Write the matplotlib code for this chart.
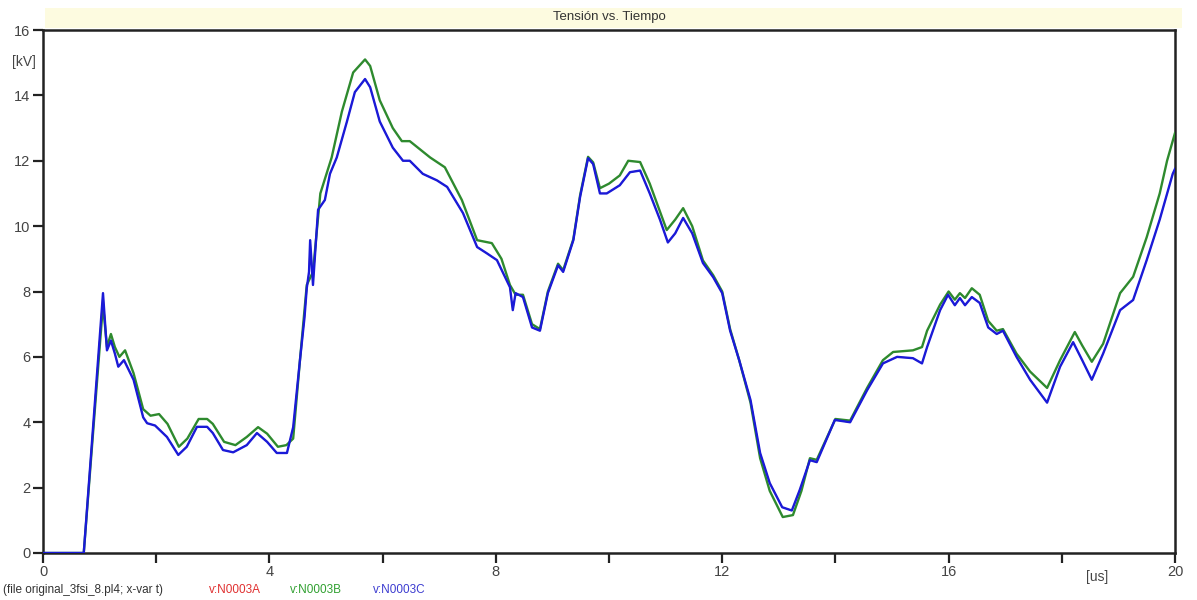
import matplotlib
matplotlib.use("Agg")
import matplotlib.pyplot as plt
from matplotlib.patches import Rectangle

# ---- data ----
t_C = [0, 0.72, 1.06, 1.13, 1.2, 1.27, 1.33, 1.43, 1.6, 1.77, 1.84, 1.98, 2.19, 2.39, 2.54, 2.72,
       2.9, 3.0, 3.18, 3.36, 3.6, 3.78, 3.96, 4.13, 4.31, 4.42, 4.54, 4.62, 4.66, 4.7, 4.72, 4.77,
       4.86, 4.98, 5.07, 5.19, 5.37, 5.51, 5.69, 5.78, 5.95, 6.18, 6.36, 6.48, 6.71, 6.96, 7.14,
       7.42, 7.67, 7.84, 8.02, 8.25, 8.3, 8.35, 8.48, 8.64, 8.78, 8.92, 9.1, 9.19, 9.37, 9.49,
       9.63, 9.72, 9.84, 9.96, 10.19, 10.37, 10.55, 10.72, 10.9, 11.04, 11.17, 11.31, 11.47,
       11.66, 11.84, 12.0, 12.14, 12.3, 12.5, 12.67, 12.84, 13.06, 13.23, 13.37, 13.55, 13.67,
       13.99, 14.26, 14.56, 14.84, 15.09, 15.37, 15.53, 15.62, 15.85, 15.99, 16.11, 16.2, 16.29,
       16.41, 16.55, 16.7, 16.85, 16.96, 17.2, 17.44, 17.74, 17.97, 18.2, 18.36, 18.53, 18.73,
       19.03, 19.26, 19.5, 19.73, 19.96, 20.0]
v_C = [0, 0, 7.95, 6.2, 6.5, 6.1, 5.7, 5.9, 5.3, 4.15, 3.97, 3.9, 3.55, 3.0, 3.25, 3.86,
       3.86, 3.67, 3.15, 3.08, 3.3, 3.67, 3.4, 3.06, 3.06, 3.85, 5.9, 7.2, 8.1, 8.6, 9.57, 8.2,
       10.5, 10.8, 11.6, 12.1, 13.2, 14.1, 14.5, 14.25, 13.2, 12.4, 12.0, 12.0, 11.6, 11.4, 11.2,
       10.4, 9.36, 9.17, 8.96, 8.13, 7.43, 7.95, 7.83, 6.9, 6.8, 7.95, 8.8, 8.6, 9.57, 10.9,
       12.08, 11.9, 11.0, 11.0, 11.25, 11.65, 11.7, 11.0, 10.2, 9.5, 9.78, 10.25, 9.78,
       8.87, 8.44, 7.95, 6.8, 5.9, 4.68, 3.06, 2.14, 1.4, 1.3, 1.93, 2.84, 2.78,
       4.07, 4.0, 4.98, 5.8, 6.0, 5.96, 5.8, 6.3, 7.43, 7.9, 7.58, 7.8, 7.58,
       7.83, 7.65, 6.9, 6.7, 6.8, 6.0, 5.3, 4.6, 5.7, 6.45, 5.9, 5.3, 6.1,
       7.43, 7.74, 8.96, 10.2, 11.6, 11.75]

t_B = [0, 0.72, 1.06, 1.13, 1.2, 1.27, 1.35, 1.45, 1.6, 1.77, 1.9, 2.05, 2.2, 2.4, 2.55, 2.75,
       2.9, 3.0, 3.2, 3.4, 3.6, 3.8, 3.96, 4.15, 4.3, 4.42, 4.54, 4.66, 4.77, 4.9, 5.1, 5.28,
       5.48, 5.69, 5.78, 5.95, 6.18, 6.34, 6.48, 6.84, 7.1, 7.4, 7.67, 7.93, 8.1, 8.25, 8.35,
       8.48, 8.64, 8.78, 8.92, 9.1, 9.19, 9.37, 9.49, 9.63, 9.72, 9.84, 10.0, 10.19, 10.34,
       10.55, 10.72, 11.02, 11.17, 11.31, 11.47, 11.66, 11.84, 12.0, 12.14, 12.3, 12.5, 12.67,
       12.84, 13.07, 13.25, 13.4, 13.55, 13.67, 14.0, 14.26, 14.56, 14.84, 15.02, 15.37, 15.53,
       15.62, 15.85, 16.0, 16.11, 16.2, 16.29, 16.41, 16.55, 16.7, 16.85, 16.96, 17.2, 17.44,
       17.74, 17.97, 18.23, 18.36, 18.53, 18.73, 19.03, 19.26, 19.5, 19.73, 19.86, 20.0]
v_B = [0, 0, 7.6, 6.3, 6.7, 6.3, 6.0, 6.2, 5.5, 4.4, 4.2, 4.25, 3.95, 3.25, 3.5, 4.1,
       4.1, 3.95, 3.4, 3.3, 3.55, 3.85, 3.65, 3.25, 3.3, 3.5, 5.9, 8.2, 8.6, 11.0, 12.1, 13.5,
       14.7, 15.1, 14.9, 13.85, 13.0, 12.6, 12.6, 12.1, 11.8, 10.8, 9.57, 9.48, 9.0, 8.2, 7.9,
       7.9, 7.0, 6.85, 8.0, 8.85, 8.65, 9.6, 10.95, 12.12, 11.95, 11.16, 11.3, 11.55, 12.0,
       11.96, 11.3, 9.88, 10.2, 10.55, 10.0, 8.95, 8.5, 8.0, 6.85, 5.9, 4.6, 2.9,
       1.9, 1.1, 1.16, 1.9, 2.9, 2.85, 4.1, 4.05, 5.05, 5.9, 6.15, 6.2, 6.3,
       6.8, 7.6, 8.0, 7.75, 7.95, 7.8, 8.1, 7.9, 7.1, 6.8, 6.85, 6.1, 5.55,
       5.05, 5.9, 6.76, 6.35, 5.85, 6.4, 7.95, 8.45, 9.66, 11.0, 12.0, 12.85]

# phase A coincides with phase C (hidden beneath it)
t_A = list(t_C)
v_A = list(v_C)

x_ticks = [0, 2, 4, 6, 8, 10, 12, 14, 16, 18, 20]
x_labels = ["0", "", "4", "", "8", "", "12", "", "16", "", "20"]
y_ticks = [0, 2, 4, 6, 8, 10, 12, 14, 16]
y_labels = ["0", "2", "4", "6", "8", "10", "12", "14", "16"]

plt.rcParams['font.family'] = ['Liberation Sans', 'DejaVu Sans']

W, H = 1197, 600
fig = plt.figure(figsize=(W / 100, H / 100), dpi=100)
fig.patch.set_facecolor("white")

L, R, B, T = 43, 1175, 553, 30
ax = fig.add_axes([L / W, 1 - B / H, (R - L) / W, (B - T) / H])

ax.plot(t_A, v_A, color="#e02020", lw=0.8, zorder=2)
ax.plot(t_B, v_B, color="#2e8a2e", lw=1.7, zorder=3)
ax.plot(t_C, v_C, color="#1a1ad8", lw=1.7, zorder=4)

ax.set_xlim(0, 20)
ax.set_ylim(0, 16)
ax.set_xticks(x_ticks)
ax.set_xticklabels(x_labels)
ax.set_yticks(y_ticks)
ax.set_yticklabels(y_labels)
for s in ax.spines.values():
    s.set_linewidth(1.8)
    s.set_color("#222222")
ax.tick_params(axis="both", direction="out", length=7, width=1.6, color="#222222",
               labelsize=10.5, labelcolor="#444444", pad=2)

# title band
fig.patches.append(Rectangle((45 / W, 1 - 28 / H), (1182 - 45) / W, 20 / H,
                             transform=fig.transFigure, facecolor="#fdfbe0",
                             edgecolor="none", zorder=0))
fig.text((L + R) / 2 / W, 1 - 17 / H, "Tensión vs. Tiempo", ha="center", va="center",
         fontsize=9.5, color="#333333")

# unit labels
fig.text(12 / W, 1 - 62 / H, "[kV]", ha="left", va="center", fontsize=10, color="#444444")
fig.text(1097 / W, 1 - 577 / H, "[us]", ha="center", va="center", fontsize=10, color="#444444")

# footer legend
y_leg = 1 - 590 / H
fig.text(3 / W, y_leg, "(file original_3fsi_8.pl4; x-var t)", ha="left", va="center",
         fontsize=8.5, color="#333333")
fig.text(209 / W, y_leg, "v:N0003A", ha="left", va="center", fontsize=8.5, color="#e03030")
fig.text(290 / W, y_leg, "v:N0003B", ha="left", va="center", fontsize=8.5, color="#30a030")
fig.text(373 / W, y_leg, "v:N0003C", ha="left", va="center", fontsize=8.5, color="#3c3cd0")

fig.savefig("out.png", dpi=100, facecolor="white")
